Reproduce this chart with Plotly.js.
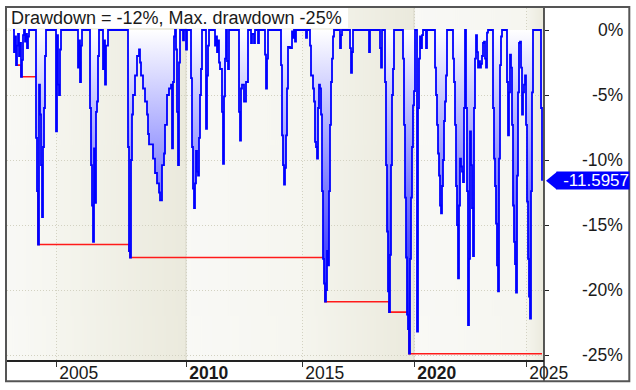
<!DOCTYPE html>
<html><head><meta charset="utf-8">
<script src="https://cdn.plot.ly/plotly-3.0.1.min.js"></script>
<style>html,body{margin:0;padding:0;background:#fff;}#chart{width:636px;height:390px;}</style>
</head><body><div id="chart"></div>
<script>
// ---- data (bar number, drawdown %) ----
const bars = [
  0,1,2,3,4,5,6,7,8,9,10,11,12,13,14,15,16,
  22,23,24,25,26,27,28,29,30,31,32,33,
  42,43,44,45,46,47,48,
  64,65,66,67,68,69,
  76,77,78,79,80,81,82,83,84,85,86,
  89,90,91,92,93,95,
  114,115,116,117,118,119,120,122,124,126,127,128,130,132,134,135,136,138,140,142,144,146,147,148,149,151,152,154,156,158,159,160,161,162,163,164,165,166,167,170,171,173,174,
  177,178,179,180,181,182,183,184,185,186,187,188,189,
  192,193,194,195,196,
  201,202,203,204,205,206,207,209,210,211,212,213,214,215,216,
  225,226,227,228,229,231,233,235,
  238,239,241,242,245,246,251,252,253,254,255,
  267,268,269,270,271,272,273,274,275,277,279,280,281,282,283,
  292,293,294,
  296,297,298,300,301,302,303,304,305,306,307,308,309,310,311,312,313,314,315,316,317,318,319,320,321,
  326,327,328,329,336,337,338,339,340,
  355,356,357,
  366,367,368,369,371,372,373,374,375,376,377,378,379,380,381,
  389,390,391,392,393,394,395,396,397,398,399,400,401,402,403,404,405,406,407,408,409,410,412,413,414,
  421,422,423,424,425,426,427,428,429,430,431,432,433,434,
  439,440,441,442,443,444,445,446,447,448,449,450,451,452,453,454,455,456,457,458,459,460,461,462,463,464,465,466,467,468,469,470,471,472,473,474,475,
  479,480,481,482,483,484,485,486,487,488,489,
  493,494,495,496,497,498,499,500,501,502,503,504,505,506,507,508,509,510,511,512,513,514,515,516,517,518,519,520,
  527,528,529
];
const drawdown = [
  0,-1.7,-0.5,-2.7,-1.2,-0.3,-2.0,-1.0,-3.6,-2.3,-0.4,0,-0.9,-0.3,-1.4,-0.5,0,
  0,-8.3,-12.4,-16.5,-4.2,-6.5,-10.4,-14.4,-9.0,-6.0,-2.0,0,
  0,-7.8,-0.4,-4.2,-5.0,-1.5,0,
  0,-2.9,-0.8,-4.0,-1.2,0,
  0,-6.0,-10.4,-13.5,-16.3,-9.1,-13.3,-6.3,-5.5,-2.0,0,
  0,-3.0,-0.8,-4.2,-1.2,0,
  0,-9.0,-17.0,-17.5,-10.0,-6.5,-5.0,-3.5,-2.0,-1.5,-2.5,-3.5,-4.5,-5.5,-6.5,-8.0,-8.8,-8.8,-9.9,-11.0,-11.8,-12.5,-13.1,-13.1,-10.4,-9.5,-7.3,-5.0,-4.5,-4.2,-9.1,-4.0,-0.5,0,-1.5,-6.3,-10.4,-2.5,0,-0.8,0,-1.5,0,
  0,-3.7,-9.0,-12.2,-13.7,-11.8,-9.3,-10.9,-11.2,-8.3,-5.0,-3.0,0,
  0,-7.6,-3.5,-1.2,0,
  0,-1.2,-0.5,-1.7,-0.8,-2.5,-3.0,-6.3,-10.3,-5.1,-2.2,0,-2.4,-3.0,0,
  0,-6.3,-8.5,-4.5,-4.2,-5.5,-4.0,0,
  -1.0,-0.3,-1.0,0,-1.0,0,0,-1.9,-4.5,-2.2,0,
  0,-2.7,-8.1,-10.4,-11.9,-10.6,-8.1,-4.5,-1.3,-1.4,-0.1,-0.6,0,-0.9,0,
  0,-0.6,0,
  0,-1.2,-3.5,-4.5,-5.5,-8.6,-9.0,-9.9,-6.0,-4.2,-4.5,-6.5,-12.4,-17.6,-19.5,-20.9,-20.0,-17.0,-18.1,-12.4,-7.3,-4.0,-2.2,-0.5,0,
  0,-1.4,-0.4,0,0,-1.4,-3.3,-1.7,0,
  0,-1.7,0,
  0,-1.4,-2.9,0,0,-4.0,-10.4,-15.5,-20.1,-21.7,-17.3,-10.4,-5.0,-3.0,0,
  0,-2.2,-7.3,-12.9,-17.5,-21.9,-23.0,-24.9,-17.6,-12.9,-9.0,-5.8,-4.7,0,0,-23.2,-6.0,-2.2,-0.5,-1.4,-0.4,0,0,-1.4,0,
  0,-2.9,-5.0,-7.3,-9.5,-11.2,-13.5,-14.1,-12.0,-10.0,-7.0,-5.5,-3.5,0,
  0,-2.2,-4.0,-7.3,-12.0,-15.0,-19.1,-13.5,-9.9,-10.5,-10.9,-11.7,-6.0,0,-6.0,-12.4,-22.7,-17.6,-7.8,-10.4,-13.7,-17.4,-6.0,-2.2,-0.4,-1.7,-2.9,-2.4,-2.9,-2.6,-2.0,-1.0,-0.9,-2.2,-2.9,-0.2,0,
  0,-6.0,-9.9,-12.0,-14.9,-18.1,-20.1,-9.9,-2.7,-0.5,0,
  0,-4.0,-8.1,-4.8,-1.9,-2.9,-7.3,-13.5,-16.3,-18.0,-20.2,-11.2,-4.8,-1.0,-0.9,-2.9,-6.5,-4.8,-4.2,-3.5,-7.3,-13.2,-17.6,-20.5,-22.2,-12.4,-4.8,0,
  0,-6.0,-11.5957
];
const maxDDBars = [3, 8, 25, 116, 117, 312, 376, 396, 529];
const maxDD = [-2.7, -3.6, -16.5, -17.0, -17.5, -20.9, -21.7, -24.9, -24.9];
const yearTickBars = [43, 173, 289, 401, 513];
const yearTickLabels = ['2005', '2010', '2015', '2020', '2025'];
const boldYears = ['2010', '2020'];
const yTickValues = [0, -5, -10, -15, -20, -25];
const lastValue = -11.5957;
const titleText = 'Drawdown = -12%, Max. drawdown -25%';

// ---- geometry / styles ----
const W = 636, H = 390;
const M = {l: 7, r: 92, t: 8, b: 30};
const PW = W - M.l - M.r, PH = H - M.t - M.b;
const px2x = px => (px - M.l) / PW;
const py2y = py => (H - M.b - py) / PH;
const xRange = [-6, 531];
const yRange = [-25.385, 1.692];
const FONT = '"Liberation Sans", Arial, sans-serif';

// background bands (alternating between year ticks)
const cv = document.createElement('canvas');
cv.width = PW * 2; cv.height = 4;
const ctx = cv.getContext('2d');
const edges = [xRange[0], ...yearTickBars, xRange[1]];
for (let i = 0; i < edges.length - 1; i++) {
  const c0 = (edges[i] - xRange[0]) / (xRange[1] - xRange[0]) * cv.width;
  const c1 = (edges[i + 1] - xRange[0]) / (xRange[1] - xRange[0]) * cv.width;
  const g = ctx.createLinearGradient(c0, 0, c1, 0);
  if (i % 2 === 1) { g.addColorStop(0, '#f5f5ee'); g.addColorStop(1, '#ebeadd'); }
  else { g.addColorStop(0, '#f9f9f6'); g.addColorStop(1, '#f6f6f0'); }
  ctx.fillStyle = g;
  ctx.fillRect(c0, 0, c1 - c0 + 1, cv.height);
}
const bgURL = cv.toDataURL('image/png');

const traces = [
  {
    x: maxDDBars, y: maxDD, type: 'scatter', mode: 'lines',
    line: {color: '#ff1a1a', width: 1.6, shape: 'hv'}, hoverinfo: 'skip'
  },
  {
    x: bars, y: drawdown, type: 'scatter', mode: 'lines',
    line: {color: '#0000ff', width: 1.8, shape: 'hv'},
    fill: 'tozeroy',
    fillgradient: {type: 'vertical', start: -22, stop: 0,
      colorscale: [[0, 'rgb(20,20,255)'], [1, 'rgb(255,255,255)']]},
    hoverinfo: 'skip'
  }
];

const shapes = [];
yearTickLabels.forEach((lab, i) => {
  if (boldYears.includes(lab)) {
    shapes.push({type: 'line', xref: 'x', yref: 'paper', x0: yearTickBars[i], x1: yearTickBars[i],
      y0: 0, y1: 1, line: {color: '#d8d7c8', width: 1}, layer: 'between'});
  }
});
// title white box
shapes.push({type: 'rect', xref: 'paper', yref: 'paper', x0: 0, x1: px2x(348), y0: py2y(28), y1: 1,
  fillcolor: '#ffffff', line: {width: 0}, layer: 'above'});
// right axis divider full height
shapes.push({type: 'line', xref: 'paper', yref: 'paper', x0: 1, x1: 1, y0: py2y(382), y1: py2y(7),
  line: {color: '#222', width: 1.5}, layer: 'above'});
// outer frame
shapes.push({type: 'rect', xref: 'paper', yref: 'paper', x0: px2x(6), x1: px2x(629.3), y0: py2y(381.3), y1: py2y(7),
  fillcolor: 'rgba(0,0,0,0)', line: {color: '#555', width: 2}, layer: 'above'});
// value-label arrow
const halfH = 9 / PH * (yRange[1] - yRange[0]);
shapes.push({type: 'path', xref: 'paper', yref: 'y',
  path: `M ${px2x(546)},${lastValue} L ${px2x(557)},${lastValue + halfH} L ${px2x(557)},${lastValue - halfH} Z`,
  fillcolor: '#0000ff', line: {width: 0}, layer: 'above'});

const annotations = [];
annotations.push({xref: 'paper', yref: 'paper', x: 0, y: py2y(18.5), xanchor: 'left', yanchor: 'middle',
  xshift: 2, text: titleText, showarrow: false, font: {family: FONT, size: 18, color: '#1a1a1a'}});
yTickValues.forEach(v => {
  annotations.push({xref: 'paper', yref: 'y', x: px2x(625), y: v, xanchor: 'right', yanchor: 'middle',
    text: v + '%', showarrow: false, font: {family: FONT, size: 17.5, color: '#1a1a1a'}});
});
annotations.push({xref: 'paper', yref: 'y', x: px2x(630), y: lastValue, xanchor: 'right', yanchor: 'middle',
  text: String(lastValue), showarrow: false, bgcolor: '#0000ff', borderpad: 0, width: 72, height: 17, align: 'right',
  font: {family: FONT, size: 17, color: '#ffffff'}});

const layout = {
  width: W, height: H,
  margin: M,
  paper_bgcolor: '#ffffff', plot_bgcolor: '#f7f7f2',
  showlegend: false,
  font: {family: FONT, size: 17.5, color: '#1a1a1a'},
  xaxis: {
    range: xRange, tickmode: 'array', tickvals: yearTickBars,
    ticktext: yearTickLabels.map(l => boldYears.includes(l) ? '<b>' + l + '</b>' : l),
    ticks: 'outside', ticklen: 5, tickcolor: '#333', tickwidth: 1,
    ticklabelposition: 'outside right', ticklabelshift: 2, ticklabelstandoff: -4,
    tickfont: {family: FONT, size: 17.5, color: '#1a1a1a'},
    showgrid: true, gridcolor: '#d3d2c2', griddash: '1px,2px', gridwidth: 1,
    showline: true, linecolor: '#222', linewidth: 1.5,
    zeroline: false, fixedrange: true
  },
  yaxis: {
    range: yRange, side: 'right', tickmode: 'array', tickvals: yTickValues,
    ticks: 'outside', ticklen: 4, tickcolor: '#222', tickwidth: 1,
    showticklabels: false,
    showgrid: true, gridcolor: '#d3d2c2', griddash: '1px,2px', gridwidth: 1,
    showline: false, zeroline: false, fixedrange: true
  },
  images: [{source: bgURL, xref: 'x', yref: 'paper', x: xRange[0], y: 1, sizex: xRange[1] - xRange[0], sizey: 1,
    sizing: 'stretch', xanchor: 'left', yanchor: 'top', layer: 'below'}],
  shapes: shapes,
  annotations: annotations
};

Plotly.newPlot('chart', traces, layout, {staticPlot: true, displayModeBar: false});
</script>
</body></html>
